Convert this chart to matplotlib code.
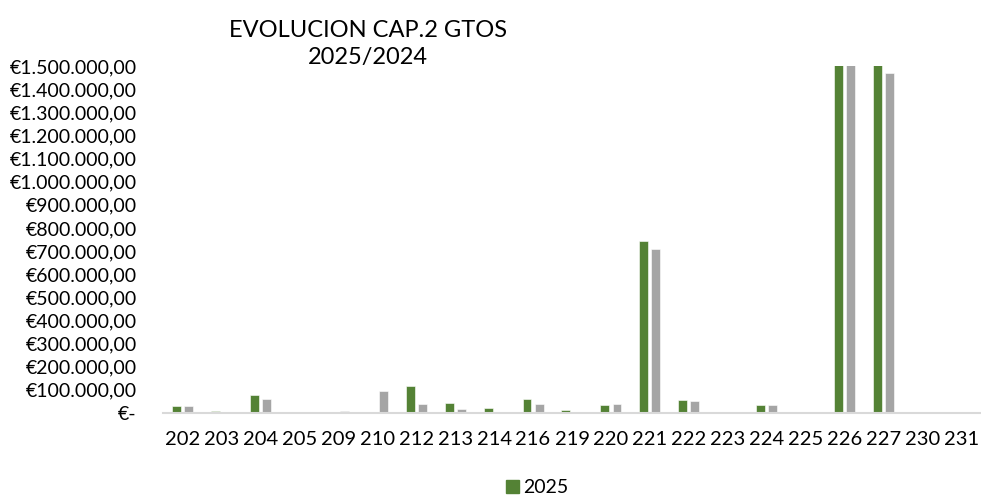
import matplotlib
matplotlib.use("Agg")
import matplotlib.pyplot as plt
import numpy as np
from matplotlib.ticker import FuncFormatter
from matplotlib.patches import Patch

# data
codes = ["202", "203", "204", "205", "209", "210", "212", "213", "214", "216", "219",
         "220", "221", "222", "223", "224", "225", "226", "227", "230", "231"]
v2025 = [32000, 9000, 78000, 4000, 0, 5000, 117000, 45000, 20000, 59000, 14000,
         35000, 744000, 55000, 0, 34000, 0, 1650000, 1620000, 1000, 3000]
v2024 = [32000, 4000, 59000, 0, 8000, 94000, 37000, 19000, 3000, 40000, 0,
         37000, 708000, 52000, 0, 34000, 0, 1600000, 1468000, 1000, 2000]
yticks = list(range(0, 1500001, 100000))

plt.rcParams['font.family'] = ['Lato', 'DejaVu Sans']

GREEN = "#548235"
GREY = "#A5A5A5"


def euro(v, pos):
    if v == 0:
        return "€-"
    s = f"{int(v):,}".replace(",", ".")
    return "€" + s + ",00"


fig = plt.figure(figsize=(9.81, 4.99), dpi=100)
ax = fig.add_axes([163 / 981, 86 / 499, 818 / 981, 347 / 499])

x = np.arange(len(codes))
w = 0.23
ax.bar(x - 0.155, v2025, width=w, color=GREEN, edgecolor="white", linewidth=0.4, label="2025")
ax.bar(x + 0.155, v2024, width=w, color=GREY, edgecolor="white", linewidth=0.4, label="2024")

ax.set_xlim(-0.5, len(codes) - 0.5)
ax.set_ylim(0, 1500000)
ax.set_yticks(yticks)
ax.yaxis.set_major_formatter(FuncFormatter(euro))
ax.set_xticks(x)
ax.set_xticklabels(codes)
ax.tick_params(axis="x", length=0, labelsize=14.5, colors="black", pad=13)
ax.tick_params(axis="y", length=0, labelsize=14, colors="black", pad=19)

for side in ["top", "right", "left"]:
    ax.spines[side].set_visible(False)
ax.spines["bottom"].set_color("#D9D9D9")
ax.spines["bottom"].set_linewidth(1.5)

fig.text(368 / 981, 1 - 44 / 499, "EVOLUCION CAP.2 GTOS\n2025/2024", ha="center", va="center",
         fontsize=17, linespacing=1.35)

fig.legend(handles=[Patch(color=GREEN, label="2025")], loc="lower left",
           bbox_to_anchor=(488 / 981, -0.03), frameon=False, fontsize=14,
           handlelength=0.7, handleheight=0.7, handletextpad=0.2)

fig.savefig("out.png", dpi=100)
